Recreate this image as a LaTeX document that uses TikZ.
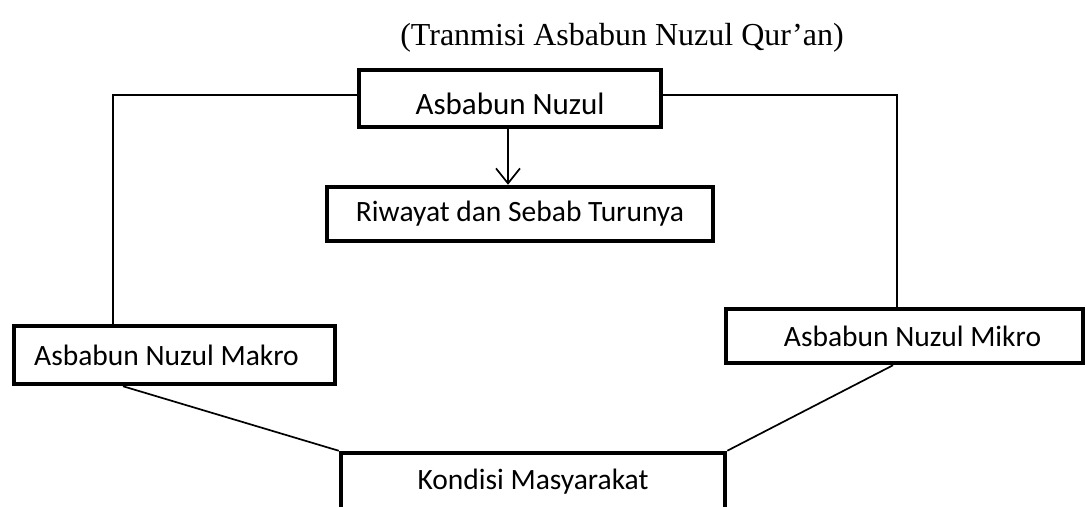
\documentclass[tikz,border=0pt]{standalone}
\usepackage{fontspec}
\setmainfont{Liberation Serif}
\newfontfamily\boxfont{Carlito}
\usetikzlibrary{arrows.meta}
\begin{document}
\begin{tikzpicture}[x=1pt,y=-1pt,
  blk/.style={draw=black, line width=4.5pt, inner sep=0pt, font=\boxfont\fontsize{29.5}{34}\selectfont, fill=white},
  conn/.style={draw=black, line width=1.7pt},
  arr/.style={conn, -{Straight Barb[length=15pt,width=24pt,line width=1.7pt]}}]
\useasboundingbox (0,0) rectangle (1091,506);
\node[font=\fontsize{32}{38}\selectfont, anchor=base] (title) at (622,45) {(Tranmisi Asbabun Nuzul Qur’an)};
\node[blk, minimum width=302pt, minimum height=57pt, font=\boxfont\fontsize{31}{36}\selectfont, text height=32pt, text depth=0pt] (top) at (510,98.5) {Asbabun Nuzul};
\node[blk, minimum width=386pt, minimum height=54pt] (riw) at (520,214) {Riwayat dan Sebab Turunya};
\node[blk, minimum width=321pt, minimum height=58pt] (makro) at (174.5,355) {Asbabun Nuzul Makro\hspace*{16pt}};
\node[blk, minimum width=357pt, minimum height=54pt] (mikro) at (904.5,336) {\hspace*{16pt}Asbabun Nuzul Mikro};
\node[blk, minimum width=384pt, minimum height=58pt] (kond) at (533,482) {Kondisi Masyarakat};
\draw[conn] ([yshift=3.5pt]top.west) -| ([xshift=-61.5pt]makro.north);
\draw[conn] ([yshift=3.5pt]top.east) -| ([xshift=-7.5pt]mikro.north);
\draw[arr] ([xshift=-2pt]top.south) -- ([xshift=-2pt]top.south |- riw.north);
\draw[conn] ([xshift=-51.5pt]makro.south) -- (kond.north west);
\draw[conn] ([xshift=-11.5pt]mikro.south) -- (kond.north east);
\end{tikzpicture}
\end{document}
